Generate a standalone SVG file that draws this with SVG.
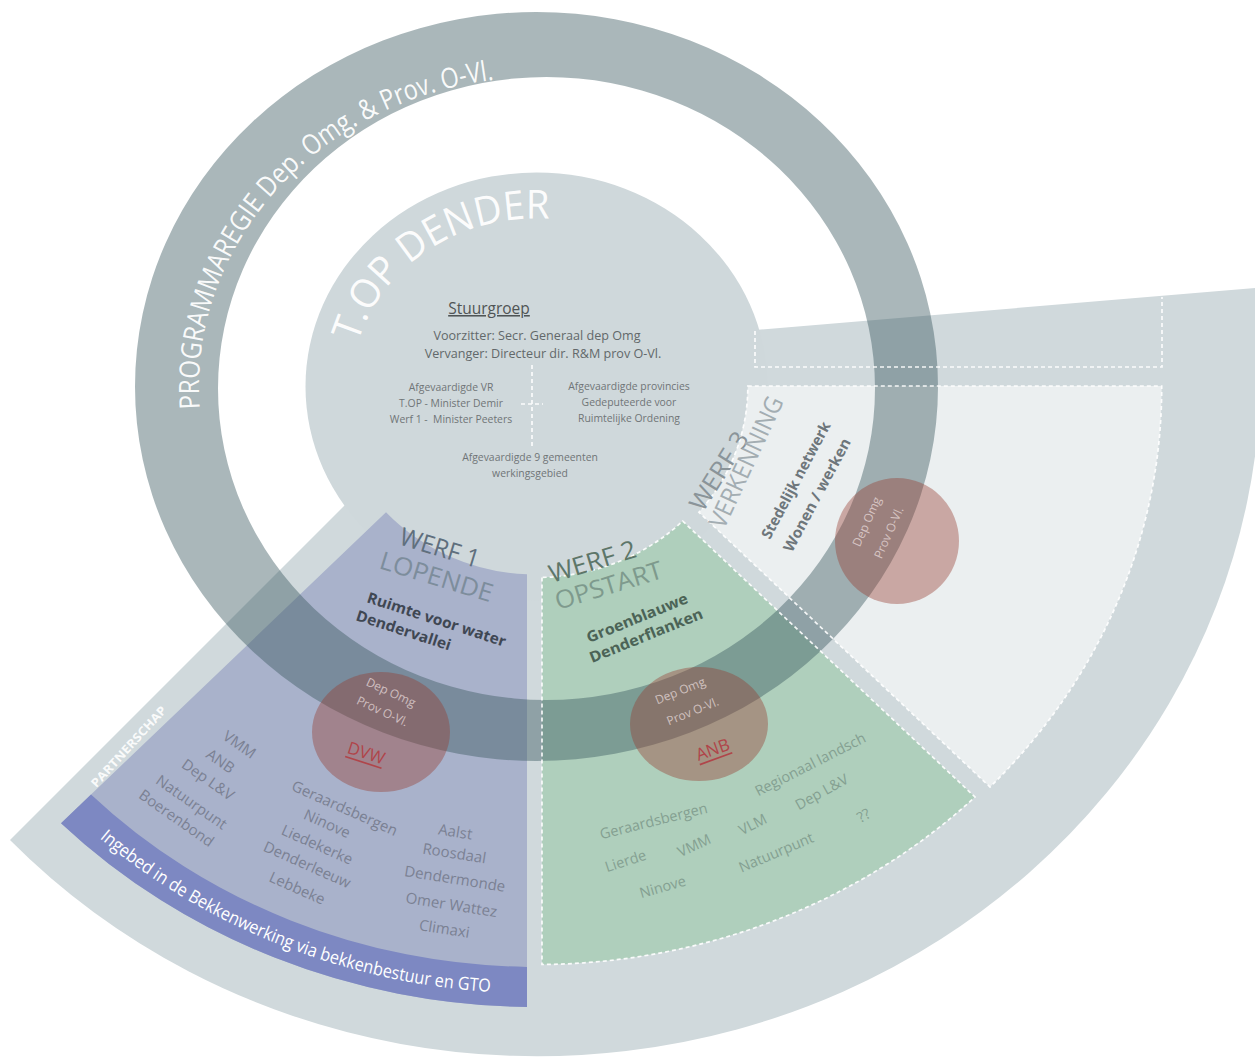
<svg xmlns="http://www.w3.org/2000/svg" width="1255" height="1064" viewBox="0 0 1255 1064">
<defs>
<style>
text { font-family: "Open Sans", "Liberation Sans", sans-serif; }
.ringtxt { fill:#ffffff; fill-opacity:0.95; font-size:28px; }
.toptxt { fill:#ffffff; fill-opacity:0.95; font-size:40px; }
.ctr { fill:#6f7577; font-size:10.4px; text-anchor:middle; }
.ctrb { fill:#62686a; font-size:12.6px; text-anchor:middle; }
.lbl { font-size:25px; }
.sub { font-size:15px; font-weight:bold; }
.l1 { fill:#7b8193; font-size:15px; text-anchor:middle; dominant-baseline:central; }
.l2 { fill:#84a091; font-size:14.5px; text-anchor:middle; dominant-baseline:central; }
.circ { fill:#f2e4e4; fill-opacity:0.7; font-size:12px; text-anchor:middle; dominant-baseline:central; }
.key { fill:#b0454a; font-size:17px; text-anchor:middle; dominant-baseline:central; text-decoration:underline; }
.dash { fill:none; stroke:#ffffff; stroke-width:1.7; stroke-dasharray:4 3; stroke-opacity:0.9; }
.red { fill:rgb(150,60,48); fill-opacity:0.4; }
</style>
<path id="ringPath" d="M 199.8,408.6 A 341 310 0 0 1 656.6,95.7"/>
<path id="topPath" d="M 357.8,343 A 185 168 0 0 1 629,241"/>
<path id="bandPath" d="M 98.7,837.6 A 654.3 607 0 0 0 559.3,993.1"/>
</defs>
<rect width="1255" height="1064" fill="#ffffff"/>

<g id="partnerschap">
<path d="M 498.5,351.5 L 1256,287.9 A 724 688 0 0 1 10,840 Z" fill="#d0d9dc"/>
</g>
<g id="topdender">
<ellipse cx="536.5" cy="386.5" rx="231" ry="214" fill="#cfd8db"/>
</g>
<g id="werf1">
<path d="M 527,574.3 L 527,1007 A 668.9 620.5 0 0 1 61,823.2 L 386,512.3 A 202.7 188 0 0 0 527,574.3 Z" fill="#a9b2cb"/>
<path d="M 527,966.9 L 527,1007 A 668.9 620.5 0 0 1 61,823.2 L 91,794.4 A 625.8 580.5 0 0 0 527,966.9 Z" fill="#7d88c2"/>
</g>
<g id="werf2">
<path d="M 542,577.4 L 542,964.5 A 623.1 578 0 0 0 975,797 L 682.7,521.1 A 205.9 191 0 0 1 542,577.4 Z" fill="#afcfbc"/>
</g>
<g id="werf3">
<path d="M 747.8,386 L 1161.7,386 A 625.2 580 0 0 1 990,787 L 698.9,512.2 A 211.3 196 0 0 0 747.8,386 Z" fill="#ebeff0"/>
</g>
<g id="programmaregie">
<path d="M 135,386.5 A 401.5 374.5 0 1 0 938,386.5 A 401.5 374.5 0 1 0 135,386.5 Z M 218,388.5 A 328.5 311.5 0 1 0 875,388.5 A 328.5 311.5 0 1 0 218,388.5 Z" fill="rgb(57,87,96)" fill-opacity="0.43" fill-rule="evenodd"/>
</g>
<g id="trekkers">
<ellipse class="red" cx="381" cy="732" rx="69" ry="60"/>
<ellipse class="red" cx="699" cy="724" rx="69" ry="57"/>
<ellipse class="red" cx="897" cy="541" rx="62" ry="63"/>
</g>
<g id="connectors">
<path class="dash" d="M 542,577.4 L 542,964.5 A 623.1 578 0 0 0 975,797 L 682.7,521.1 A 205.9 191 0 0 1 542,577.4 Z"/>
<path class="dash" d="M 747.8,386 L 1161.7,386 A 625.2 580 0 0 1 990,787 L 698.9,512.2 A 211.3 196 0 0 0 747.8,386 Z"/>
<path class="dash" d="M 755,331 L 755,367 L 1162,367 L 1162,297"/>
<path class="dash" d="M 532,365 V 447 M 521,404 H 543"/>
</g>

<g id="programmaregie-label">
<text class="ringtxt"><textPath href="#ringPath" textLength="279" lengthAdjust="spacingAndGlyphs">PROGRAMMAREGIE Dep.</textPath></text>
<text class="ringtxt"><textPath href="#ringPath" startOffset="285" textLength="202" lengthAdjust="spacingAndGlyphs">Omg. &amp; Prov. O-Vl.</textPath></text>
</g>
<g id="topdender-labels">
<text class="toptxt"><textPath href="#topPath" textLength="85" lengthAdjust="spacingAndGlyphs">T.OP</textPath></text>
<text class="toptxt"><textPath href="#topPath" startOffset="95" textLength="151" lengthAdjust="spacingAndGlyphs">DENDER</textPath></text>
<text x="489" y="314" fill="#4f5455" font-size="15.5" text-anchor="middle" text-decoration="underline">Stuurgroep</text>
<text class="ctrb" x="537" y="340">Voorzitter: Secr. Generaal dep Omg</text>
<text class="ctrb" x="543" y="358">Vervanger: Directeur dir. R&amp;M prov O-Vl.</text>
<text class="ctr" x="451" y="391">Afgevaardigde VR</text>
<text class="ctr" x="451" y="407">T.OP - Minister Demir</text>
<text class="ctr" x="451" y="423" xml:space="preserve">Werf 1 -  Minister Peeters</text>
<text class="ctr" x="629" y="390">Afgevaardigde provincies</text>
<text class="ctr" x="629" y="406">Gedeputeerde voor</text>
<text class="ctr" x="629" y="422">Ruimtelijke Ordening</text>
<text class="ctr" x="530" y="461">Afgevaardigde 9 gemeenten</text>
<text class="ctr" x="530" y="477">werkingsgebied</text>
</g>
<g id="partnerschap-label">
<text transform="translate(128.5,746.5) rotate(-47.5)" fill="#ffffff" fill-opacity="0.9" font-size="12" font-weight="bold" text-anchor="middle" dominant-baseline="central" textLength="105" lengthAdjust="spacingAndGlyphs">PARTNERSCHAP</text>
<text fill="#ffffff" font-size="18"><textPath href="#bandPath" startOffset="1" textLength="427" lengthAdjust="spacingAndGlyphs">Ingebed in de Bekkenwerking via bekkenbestuur en GTO</textPath></text>
</g>
<g id="werf1-labels">
<text class="lbl" transform="translate(398,544) rotate(17)" fill="#5f6f7d" textLength="82" lengthAdjust="spacingAndGlyphs">WERF 1</text>
<text class="lbl" transform="translate(378,568) rotate(17)" fill="#7d8d9c" textLength="117" lengthAdjust="spacingAndGlyphs">LOPENDE</text>
<text class="sub" transform="translate(366,602) rotate(18)" fill="#3f4753" textLength="145" lengthAdjust="spacingAndGlyphs">Ruimte voor water</text>
<text class="sub" transform="translate(355,620) rotate(18)" fill="#3f4753" textLength="99" lengthAdjust="spacingAndGlyphs">Dendervallei</text>
<text class="circ" transform="translate(391,692) rotate(25)">Dep Omg</text>
<text class="circ" transform="translate(382.5,711) rotate(25)">Prov O-Vl.</text>
<text class="key" transform="translate(366.5,752.5) rotate(18)">DVW</text>
<text class="l1" transform="translate(240,744) rotate(35)">VMM</text>
<text class="l1" transform="translate(221,760.5) rotate(35)">ANB</text>
<text class="l1" transform="translate(208.5,779) rotate(35)">Dep L&amp;V</text>
<text class="l1" transform="translate(192,801.5) rotate(35)">Natuurpunt</text>
<text class="l1" transform="translate(177,817.5) rotate(35)">Boerenbond</text>
<text class="l1" transform="translate(345,807.5) rotate(24)">Geraardsbergen</text>
<text class="l1" transform="translate(327.5,823) rotate(24)">Ninove</text>
<text class="l1" transform="translate(317.5,844) rotate(24)">Liedekerke</text>
<text class="l1" transform="translate(307.5,864) rotate(24)">Denderleeuw</text>
<text class="l1" transform="translate(297.5,887.5) rotate(24)">Lebbeke</text>
<text class="l1" transform="translate(455.5,831) rotate(9)">Aalst</text>
<text class="l1" transform="translate(454.5,852.5) rotate(9)">Roosdaal</text>
<text class="l1" transform="translate(455,878) rotate(9)">Dendermonde</text>
<text class="l1" transform="translate(451.5,904) rotate(9)">Omer Wattez</text>
<text class="l1" transform="translate(444.5,928) rotate(9)">Climaxi</text>
</g>
<g id="werf2-labels">
<text class="lbl" transform="translate(552,583) rotate(-17)" fill="#5d7669" textLength="90" lengthAdjust="spacingAndGlyphs">WERF 2</text>
<text class="lbl" transform="translate(558,610) rotate(-17)" fill="#7e9a8d" textLength="111" lengthAdjust="spacingAndGlyphs">OPSTART</text>
<text class="sub" transform="translate(589,643) rotate(-22)" fill="#4b6356" textLength="108" lengthAdjust="spacingAndGlyphs">Groenblauwe</text>
<text class="sub" transform="translate(592,663) rotate(-22)" fill="#4b6356" textLength="121" lengthAdjust="spacingAndGlyphs">Denderflanken</text>
<text class="circ" transform="translate(680,690.5) rotate(-22)">Dep Omg</text>
<text class="circ" transform="translate(692.5,711) rotate(-22)">Prov O-Vl.</text>
<text class="key" transform="translate(712.5,749) rotate(-20)">ANB</text>
<text class="l2" transform="translate(810,764) rotate(-27)">Regionaal landsch</text>
<text class="l2" transform="translate(653.5,820.5) rotate(-14)">Geraardsbergen</text>
<text class="l2" transform="translate(821.5,791.5) rotate(-29)">Dep L&amp;V</text>
<text class="l2" transform="translate(752.5,824) rotate(-27)">VLM</text>
<text class="l2" transform="translate(863.5,815) rotate(-30)">??</text>
<text class="l2" transform="translate(625.5,860.5) rotate(-18)">Lierde</text>
<text class="l2" transform="translate(694,845) rotate(-25)">VMM</text>
<text class="l2" transform="translate(776,852) rotate(-23)">Natuurpunt</text>
<text class="l2" transform="translate(662.5,886.5) rotate(-16)">Ninove</text>
</g>
<g id="werf3-labels">
<text class="lbl" transform="translate(703,513) rotate(-58)" fill="#8a9499" textLength="88" lengthAdjust="spacingAndGlyphs">WERF 3</text>
<text class="lbl" transform="translate(724,530) rotate(-65)" fill="#a3adb2" textLength="142" lengthAdjust="spacingAndGlyphs">VERKENNING</text>
<text class="sub" transform="translate(770,540) rotate(-62)" fill="#6e767b" textLength="130" lengthAdjust="spacingAndGlyphs">Stedelijk netwerk</text>
<text class="sub" transform="translate(792,553) rotate(-62)" fill="#6e767b" textLength="126" lengthAdjust="spacingAndGlyphs">Wonen / werken</text>
<text class="circ" transform="translate(866.5,521.5) rotate(-66)">Dep Omg</text>
<text class="circ" transform="translate(888.5,532.5) rotate(-66)">Prov O-Vl.</text>
</g>
</svg>
